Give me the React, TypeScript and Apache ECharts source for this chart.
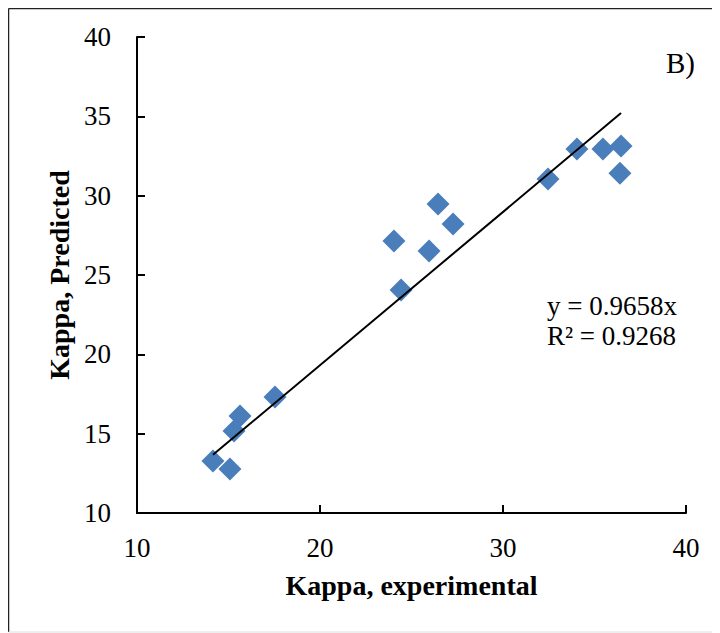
import React, { useEffect, useRef } from "react";
import * as echarts from "echarts";

const experimental = [14.15, 15.08, 15.3, 15.63, 17.54, 24.04, 24.43, 25.96, 26.45, 27.27, 32.46, 34.04, 35.46, 36.45, 36.39];
const predicted = [13.28, 12.77, 15.17, 16.11, 17.31, 27.14, 24.05, 26.51, 29.47, 28.21, 31.05, 32.94, 32.94, 33.13, 31.42];
const slope = 0.9658;
const r2 = 0.9268;
const xTicks = [10, 20, 30, 40];
const yTicks = [10, 15, 20, 25, 30, 35, 40];

const FONT = "Liberation Serif";

export default function App() {
  const ref = useRef<HTMLDivElement>(null);
  useEffect(() => {
    if (!ref.current) return;
    const chart = echarts.init(ref.current, null, { renderer: "svg" });
    const pts = experimental.map((x, i) => [x, predicted[i]]);
    const minX = Math.min(...experimental);
    const maxX = Math.max(...experimental);
    const trend = [[minX, slope * minX], [maxX, slope * maxX]];
    chart.setOption({
      animation: false,
      backgroundColor: "#fff",
      grid: { left: 129, right: 34, top: 29, bottom: 120 },
      xAxis: {
        type: "value",
        min: xTicks[0],
        max: xTicks[xTicks.length - 1],
        interval: 10,
        name: "Kappa, experimental",
        nameLocation: "middle",
        nameGap: 58,
        nameTextStyle: { fontFamily: FONT, fontSize: 28, fontWeight: "bold", color: "#000" },
        axisLine: { lineStyle: { color: "#000", width: 2 } },
        axisTick: { inside: true, length: 8, lineStyle: { color: "#000", width: 2 } },
        axisLabel: { fontFamily: FONT, fontSize: 27, color: "#000", margin: 21 },
        splitLine: { show: false },
      },
      yAxis: {
        type: "value",
        min: yTicks[0],
        max: yTicks[yTicks.length - 1],
        interval: 5,
        name: "Kappa, Predicted",
        nameLocation: "middle",
        nameGap: 62,
        nameTextStyle: { fontFamily: FONT, fontSize: 28, fontWeight: "bold", color: "#000" },
        axisLine: { lineStyle: { color: "#000", width: 2 } },
        axisTick: { inside: true, length: 8, lineStyle: { color: "#000", width: 2 } },
        axisLabel: { fontFamily: FONT, fontSize: 27, color: "#000", margin: 26 },
        splitLine: { show: false },
      },
      series: [
        {
          type: "scatter",
          data: pts,
          symbol: "diamond",
          symbolSize: 23,
          itemStyle: { color: "#4A7EBB", opacity: 1 },
          z: 2,
        },
        {
          type: "line",
          data: trend,
          symbol: "none",
          lineStyle: { color: "#000", width: 2 },
          z: 3,
        },
      ],
      graphic: [
        { type: "line", shape: { x1: 0.5, y1: 0.5, x2: 720, y2: 0.5 }, style: { stroke: "#222", lineWidth: 1.5 } },
        { type: "line", shape: { x1: 0.5, y1: 0.5, x2: 0.5, y2: 624 }, style: { stroke: "#222", lineWidth: 1.5 } },
        { type: "line", shape: { x1: 0.5, y1: 624, x2: 720, y2: 624 }, style: { stroke: "#ddd", lineWidth: 1 } },
        {
          type: "text",
          right: 25,
          top: 40,
          style: { text: "B)", fontFamily: FONT, fontSize: 29, fill: "#000" },
        },
        {
          type: "text",
          left: 539,
          top: 283,
          style: {
            text: "y = " + slope.toFixed(4) + "x\nR² = " + r2.toFixed(4),
            fontFamily: FONT,
            fontSize: 27,
            lineHeight: 30,
            fill: "#000",
          },
        },
      ],
    });
    return () => chart.dispose();
  }, []);
  return <div ref={ref} style={{ width: 712, height: 625 }} />;
}
